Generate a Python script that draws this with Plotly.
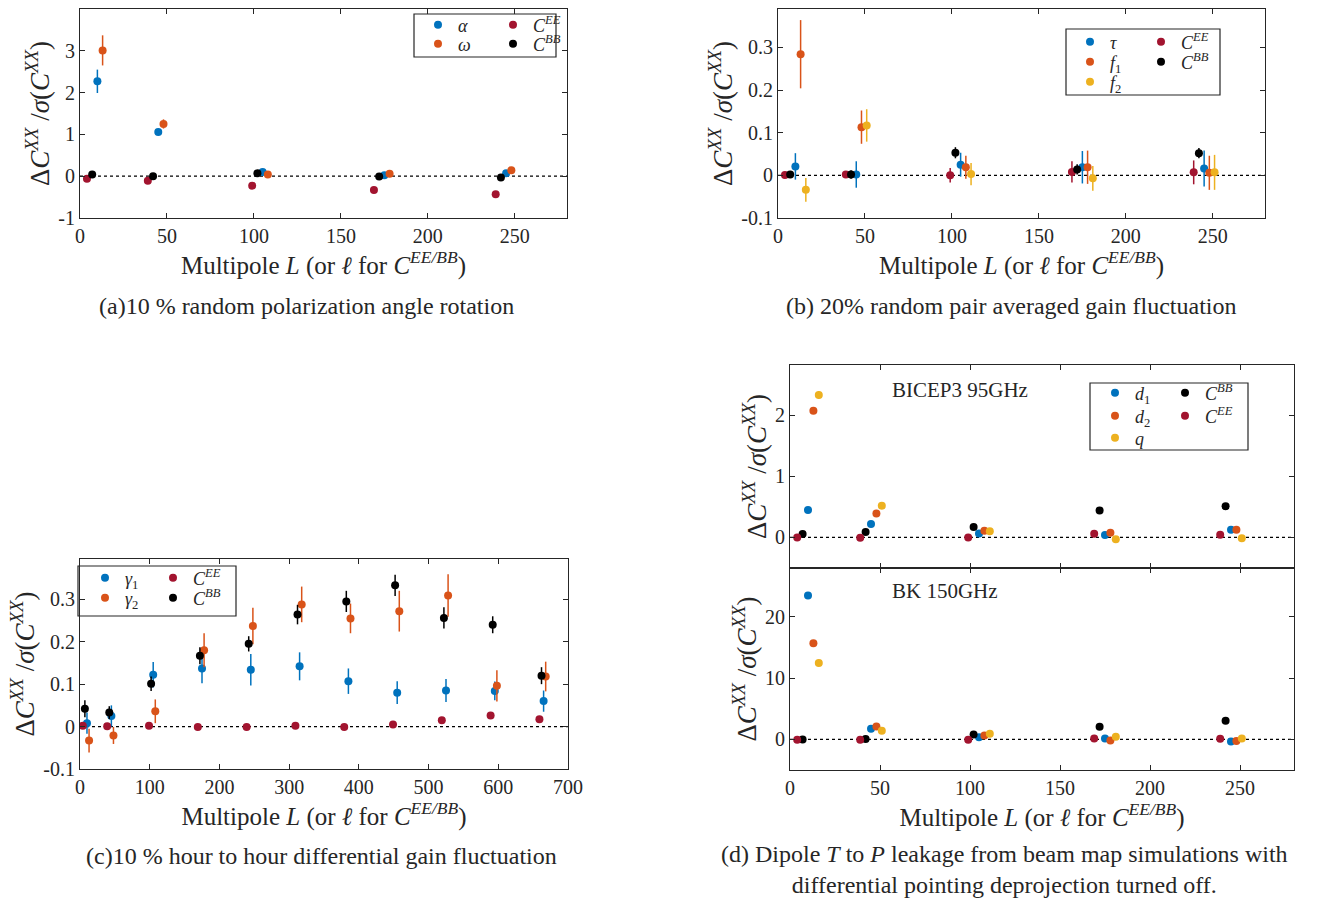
import plotly.graph_objects as go

W, H = 1335, 898
FONT = "Liberation Serif"
INK = "#262626"

# MATLAB default palette
BLUE, ORANGE, YELLOW, RED, BLACK = "#0072BD", "#D95319", "#EDB120", "#A2142F", "#000000"

# ---------------- Panel (a): polarization angle rotation ----------------
a_L_EE = [4, 39, 99, 169, 239]
a_L_BB = [7, 42, 102, 172, 242]
a_L_alpha = [10, 45, 105, 175, 245]
a_L_omega = [13, 48, 108, 178, 248]
a_alpha = [2.27, 1.06, 0.10, 0.02, 0.07]
a_alpha_err = [0.28, 0.07, 0.03, 0.02, 0.02]
a_omega = [3.01, 1.25, 0.04, 0.06, 0.14]
a_omega_err = [0.36, 0.11, 0.03, 0.02, 0.02]
a_EE = [-0.06, -0.11, -0.23, -0.33, -0.43]
a_EE_err = [0.01, 0.01, 0.01, 0.01, 0.01]
a_BB = [0.04, 0.00, 0.07, -0.01, -0.03]
a_BB_err = [0.01, 0.01, 0.01, 0.01, 0.01]

# ---------------- Panel (b): pair averaged gain fluctuation ----------------
b_L_EE = [4, 39, 99, 169, 239]
b_L_BB = [7, 42, 102, 172, 242]
b_L_tau = [10, 45, 105, 175, 245]
b_L_f1 = [13, 48, 108, 178, 248]
b_L_f2 = [16, 51, 111, 181, 251]
b_tau = [0.021, 0.002, 0.025, 0.019, 0.016]
b_tau_err = [0.031, 0.031, 0.028, 0.038, 0.042]
b_f1 = [0.284, 0.113, 0.019, 0.019, 0.006]
b_f1_err = [0.080, 0.039, 0.027, 0.039, 0.040]
b_f2 = [-0.034, 0.117, 0.003, -0.007, 0.007]
b_f2_err = [0.028, 0.038, 0.026, 0.029, 0.041]
b_EE = [0.001, 0.002, 0.000, 0.008, 0.007]
b_EE_err = [0.004, 0.006, 0.017, 0.025, 0.028]
b_BB = [0.002, 0.002, 0.053, 0.014, 0.052]
b_BB_err = [0.006, 0.010, 0.013, 0.012, 0.012]

# ---------------- Panel (c): hour-to-hour differential gain ----------------
c_L_EE = [4, 39, 99, 169, 239, 309, 379, 449, 519, 589, 659]
c_L_BB = [7, 42, 102, 172, 242, 312, 382, 452, 522, 592, 662]
c_L_g1 = [10, 45, 105, 175, 245, 315, 385, 455, 525, 595, 665]
c_L_g2 = [13, 48, 108, 178, 248, 318, 388, 458, 528, 598, 668]
c_g1 = [0.008, 0.025, 0.122, 0.137, 0.134, 0.142, 0.107, 0.080, 0.085, 0.084, 0.060]
c_g1_err = [0.025, 0.025, 0.030, 0.035, 0.037, 0.033, 0.030, 0.027, 0.027, 0.022, 0.025]
c_g2 = [-0.033, -0.021, 0.036, 0.180, 0.237, 0.288, 0.255, 0.272, 0.309, 0.096, 0.118]
c_g2_err = [0.028, 0.020, 0.028, 0.040, 0.043, 0.042, 0.035, 0.048, 0.050, 0.037, 0.035]
c_EE = [0.002, 0.001, 0.002, -0.001, -0.001, 0.002, -0.001, 0.005, 0.015, 0.026, 0.017]
c_EE_err = [0.002] * 11
c_BB = [0.042, 0.033, 0.101, 0.167, 0.195, 0.264, 0.295, 0.333, 0.256, 0.240, 0.120]
c_BB_err = [0.020, 0.015, 0.017, 0.020, 0.018, 0.023, 0.025, 0.025, 0.025, 0.020, 0.020]

# ---------------- Panel (d): dipole T->P leakage ----------------
d_L_EE = [4, 39, 99, 169, 239]
d_L_BB = [7, 42, 102, 172, 242]
d_L_d1 = [10, 45, 105, 175, 245]
d_L_d2 = [13, 48, 108, 178, 248]
d_L_q = [16, 51, 111, 181, 251]
# BICEP3 95GHz
d95_d1 = [0.45, 0.22, 0.065, 0.04, 0.125]
d95_d2 = [2.07, 0.39, 0.11, 0.075, 0.125]
d95_d2_err = [0.05, 0.01, 0.01, 0.01, 0.01]
d95_q = [2.33, 0.52, 0.10, -0.03, -0.015]
d95_q_err = [0.06, 0.01, 0.01, 0.01, 0.01]
d95_BB = [0.055, 0.09, 0.17, 0.44, 0.51]
d95_EE = [0.0, -0.005, 0.0, 0.06, 0.045]
# BK 150GHz
d150_d1 = [23.5, 1.74, 0.33, 0.16, -0.33]
d150_d2 = [15.7, 2.1, 0.65, -0.2, -0.27]
d150_q = [12.5, 1.4, 0.92, 0.43, 0.16]
d150_BB = [0.0, 0.05, 0.8, 2.07, 3.04]
d150_EE = [-0.05, -0.05, -0.05, 0.16, 0.10]

# ---------------- text ----------------
Y_TITLE = "Δ<i>C</i><sup><i>XX</i></sup> /<i>σ</i>(<i>C</i><sup><i>XX</i></sup>)"
X_TITLE = "Multipole <i>L</i> (or <i>ℓ</i> for <i>C</i><sup><i>EE/BB</i></sup>)"
N_EE = "<i>C</i><sup><i>EE</i></sup>"
N_BB = "<i>C</i><sup><i>BB</i></sup>"


def px(x):
    return x / W


def py(y):
    return 1 - y / H


fig = go.Figure()


def add(x, y, err, color, name, xa, ya, legend, show=True):
    fig.add_trace(go.Scatter(
        x=x, y=y, mode="markers", name=name,
        marker=dict(color=color, size=8, line=dict(width=0)),
        error_y=dict(type="data", array=err, visible=err is not None,
                     color=color, thickness=1.5, width=0),
        xaxis=xa, yaxis=ya, legend=legend, showlegend=show,
    ))


# (a) legend rows: [alpha, C^EE], [omega, C^BB]
add(a_L_alpha, a_alpha, a_alpha_err, BLUE, "<i>α</i>", "x", "y", "legend")
add(a_L_EE, a_EE, a_EE_err, RED, N_EE, "x", "y", "legend")
add(a_L_omega, a_omega, a_omega_err, ORANGE, "<i>ω</i>", "x", "y", "legend2")
add(a_L_BB, a_BB, a_BB_err, BLACK, N_BB, "x", "y", "legend2")

# (b) rows: [tau, C^EE], [f1, C^BB], [f2]
add(b_L_tau, b_tau, b_tau_err, BLUE, "<i>τ</i>", "x2", "y2", "legend3")
add(b_L_EE, b_EE, b_EE_err, RED, N_EE, "x2", "y2", "legend3")
add(b_L_f1, b_f1, b_f1_err, ORANGE, "<i>f</i><sub>1</sub>", "x2", "y2", "legend4")
add(b_L_BB, b_BB, b_BB_err, BLACK, N_BB, "x2", "y2", "legend4")
add(b_L_f2, b_f2, b_f2_err, YELLOW, "<i>f</i><sub>2</sub>", "x2", "y2", "legend5")

# (c) rows: [g1, C^EE], [g2, C^BB]
add(c_L_g1, c_g1, c_g1_err, BLUE, "<i>γ</i><sub>1</sub>", "x3", "y3", "legend6")
add(c_L_EE, c_EE, c_EE_err, RED, N_EE, "x3", "y3", "legend6")
add(c_L_g2, c_g2, c_g2_err, ORANGE, "<i>γ</i><sub>2</sub>", "x3", "y3", "legend7")
add(c_L_BB, c_BB, c_BB_err, BLACK, N_BB, "x3", "y3", "legend7")

# (d) top, rows: [d1, C^BB], [d2, C^EE], [q]
add(d_L_d1, d95_d1, None, BLUE, "<i>d</i><sub>1</sub>", "x4", "y4", "legend8")
add(d_L_BB, d95_BB, None, BLACK, N_BB, "x4", "y4", "legend8")
add(d_L_d2, d95_d2, d95_d2_err, ORANGE, "<i>d</i><sub>2</sub>", "x4", "y4", "legend9")
add(d_L_EE, d95_EE, None, RED, N_EE, "x4", "y4", "legend9")
add(d_L_q, d95_q, d95_q_err, YELLOW, "<i>q</i>", "x4", "y4", "legend10")
# (d) bottom
add(d_L_d1, d150_d1, None, BLUE, "d1", "x5", "y5", "legend8", show=False)
add(d_L_BB, d150_BB, None, BLACK, N_BB, "x5", "y5", "legend8", show=False)
add(d_L_d2, d150_d2, None, ORANGE, "d2", "x5", "y5", "legend9", show=False)
add(d_L_EE, d150_EE, None, RED, N_EE, "x5", "y5", "legend9", show=False)
add(d_L_q, d150_q, None, YELLOW, "q", "x5", "y5", "legend10", show=False)

axis_style = dict(
    showline=True, linecolor=INK, linewidth=1, mirror="ticks",
    ticks="inside", ticklen=5, tickcolor=INK, tickwidth=1,
    showgrid=False, zeroline=False, automargin=False,
    tickfont=dict(family=FONT, size=20, color=INK),
)
XT_FONT = dict(family=FONT, size=25, color=INK)
YT_FONT = dict(family=FONT, size=27, color=INK)


def xax(domain, rng, vals, title, anchor, show_labels=True, standoff=0):
    d = dict(axis_style, domain=domain, range=rng, anchor=anchor,
             tickvals=vals, ticktext=[str(v) for v in vals],
             showticklabels=show_labels)
    if title:
        d["title"] = dict(text=title, standoff=standoff, font=XT_FONT)
    return d


def yax(domain, rng, vals, texts, title, anchor, standoff=0):
    d = dict(axis_style, domain=domain, range=rng, anchor=anchor,
             tickvals=vals, ticktext=texts)
    if title:
        d["title"] = dict(text=title, standoff=standoff, font=YT_FONT)
    return d


xa = [0, 50, 100, 150, 200, 250]
xc = [0, 100, 200, 300, 400, 500, 600, 700]

fig.update_layout(
    width=W, height=H,
    margin=dict(l=0, r=0, t=0, b=0),
    paper_bgcolor="white", plot_bgcolor="white",
    font=dict(family=FONT, color=INK),
    xaxis=xax([px(80), px(567)], [0, 280], xa, X_TITLE, "y"),
    yaxis=yax([py(218), py(9)], [-1, 4], [-1, 0, 1, 2, 3, 4],
              ["-1", "0", "1", "2", "3", "4"], Y_TITLE, "x"),
    xaxis2=xax([px(778), px(1265)], [0, 280], xa, X_TITLE, "y2"),
    yaxis2=yax([py(218), py(9)], [-0.1, 0.39], [-0.1, 0, 0.1, 0.2, 0.3],
               ["-0.1", "0", "0.1", "0.2", "0.3"], Y_TITLE, "x2"),
    xaxis3=xax([px(80), px(568)], [0, 700], xc, X_TITLE, "y3"),
    yaxis3=yax([py(769), py(559)], [-0.1, 0.395], [-0.1, 0, 0.1, 0.2, 0.3],
               ["-0.1", "0", "0.1", "0.2", "0.3"], Y_TITLE, "x3"),
    xaxis4=xax([px(790), px(1294)], [0, 280], xa, None, "y4", show_labels=False),
    yaxis4=yax([py(568), py(365)], [-0.5, 2.82], [0, 1, 2], ["0", "1", "2"], Y_TITLE, "x4"),
    xaxis5=xax([px(790), px(1294)], [0, 280], xa, X_TITLE, "y5"),
    yaxis5=yax([py(770), py(568)], [-5, 28], [0, 10, 20], ["0", "10", "20"], Y_TITLE, "x5"),
    showlegend=True,
)

# zero reference lines
for xr, yr in [("x", "y"), ("x2", "y2"), ("x3", "y3"), ("x4", "y4"), ("x5", "y5")]:
    fig.add_shape(type="line", xref=f"{xr} domain", yref=yr, x0=0, x1=1, y0=0, y1=0,
                  line=dict(color="black", width=1.2, dash="dot"), layer="below")

# legends: one horizontal legend per row, framed by a rectangle per panel
leg_font = dict(family=FONT, size=18, color=INK)


def legend_row(marker_x, row_y, col_gap):
    return dict(x=px(marker_x - 19), y=py(row_y), xanchor="left", yanchor="middle",
                orientation="h", entrywidth=col_gap - 45, entrywidthmode="pixels",
                bgcolor="rgba(0,0,0,0)", borderwidth=0, font=leg_font,
                itemwidth=30, traceorder="normal", tracegroupgap=0)


fig.update_layout(
    legend=legend_row(437, 25, 75), legend2=legend_row(437, 44, 75),
    legend3=legend_row(1089, 42, 71), legend4=legend_row(1089, 62, 71),
    legend5=legend_row(1089, 82, 71),
    legend6=legend_row(104, 578, 68), legend7=legend_row(104, 598, 68),
    legend8=legend_row(1114, 393, 70), legend9=legend_row(1114, 416, 70),
    legend10=legend_row(1114, 438, 70),
)

boxes = [(414, 14, 556, 57), (1066, 29, 1220, 95), (78, 566, 236, 616), (1090, 383, 1248, 450)]
for x0, y0, x1, y1 in boxes:
    fig.add_shape(type="rect", xref="paper", yref="paper",
                  x0=px(x0), x1=px(x1), y0=py(y0), y1=py(y1),
                  line=dict(color=INK, width=1.2), fillcolor="white", layer="below")

# panel labels inside (d)
fig.add_annotation(text="BICEP3 95GHz", xref="paper", yref="paper", x=px(890), y=py(390),
                   xanchor="left", yanchor="middle", showarrow=False,
                   font=dict(family=FONT, size=21, color=INK))
fig.add_annotation(text="BK 150GHz", xref="paper", yref="paper", x=px(890), y=py(591),
                   xanchor="left", yanchor="middle", showarrow=False,
                   font=dict(family=FONT, size=21, color=INK))

# captions
cap_font = dict(family=FONT, size=24, color=INK)
captions = [
    ("(a)10 % random polarization angle rotation", 306, 306),
    ("(b) 20% random pair averaged gain fluctuation", 1011, 306),
    ("(c)10 % hour to hour differential gain fluctuation", 321, 856),
    ("(d) Dipole <i>T</i> to <i>P</i> leakage from beam map simulations with<br>"
     "differential pointing deprojection turned off.", 1005, 869),
]
for text, x, y in captions:
    fig.add_annotation(text=text, xref="paper", yref="paper", x=px(x), y=py(y),
                       xanchor="center", yanchor="middle", showarrow=False,
                       font=cap_font, align="center")

fig.write_html("out.html", config={"displayModeBar": False},
               post_script="document.body.style.margin='0';")
